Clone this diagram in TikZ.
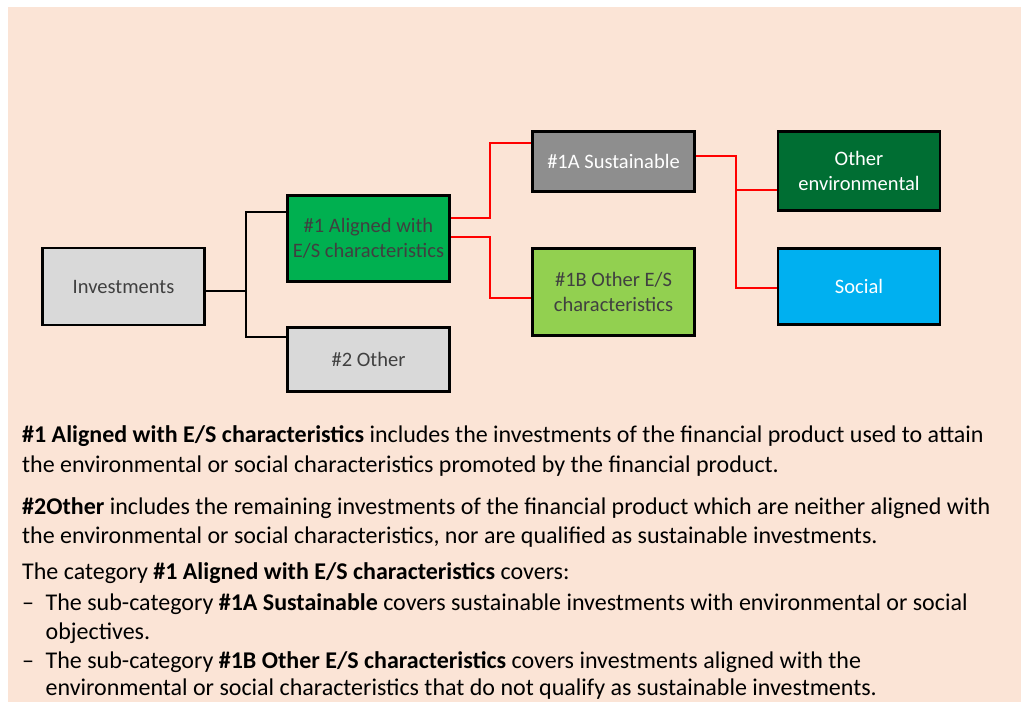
\documentclass[tikz,border=0pt]{standalone}
\usepackage{fontspec}
\setmainfont{Carlito}
\definecolor{peach}{HTML}{FBE4D6}
\definecolor{boxgray}{HTML}{D9D9D9}
\definecolor{boxgreen}{HTML}{00B050}
\definecolor{boxdgray}{HTML}{8E8E8E}
\definecolor{boxlgreen}{HTML}{92D050}
\definecolor{boxdgreen}{HTML}{006E33}
\definecolor{boxblue}{HTML}{00B0F0}
\definecolor{boxtext}{HTML}{404040}
\newcommand{\dashitem}{\makebox[23.5pt][l]{\textendash}}
\begin{document}
\begin{tikzpicture}[x=1pt,y=-1pt,
  cat/.style={draw=black,line width=2.4pt,inner sep=0pt,align=center,
    text=boxtext,font=\fontsize{20.5}{25}\selectfont,
    minimum width=162pt},
  blk/.style={draw=black,line width=1.6pt},
  rdl/.style={draw=red,line width=1.6pt},
  body/.style={anchor=base west,inner sep=0pt,text=black,
    font=\fontsize{24}{29}\selectfont}]
\useasboundingbox (0,0) rectangle (1021,702);
\fill[white] (0,0) rectangle (1021,702);
\fill[peach] (8,7) rectangle (1021,702);

\node[cat,fill=boxgray,minimum height=77pt] (inv) at (123.5,286.5) {Investments};
\node[cat,fill=boxgreen,minimum height=86pt] (one) at (368.5,238.5) {\#1 Aligned with\\E/S characteristics};
\node[cat,fill=boxgray,minimum height=64pt] (two) at (368.5,359.5) {\#2 Other};
\node[cat,fill=boxdgray,text=white,minimum height=60pt] (sa) at (613.5,161.5) {\#1A Sustainable};
\node[cat,fill=boxlgreen,minimum height=87pt] (ob) at (613.5,292) {\#1B Other E/S\\characteristics};
\node[cat,fill=boxdgreen,text=white,minimum height=79pt] (oe) at (859,171) {Other\\environmental};
\node[cat,fill=boxblue,text=white,minimum height=76pt] (soc) at (859,286.5) {Social};

\coordinate (j1) at (246,291);
\coordinate (j2) at (736,190);
\draw[blk] ([yshift=-4.5pt]inv.east) -- (j1);
\draw[blk] ([yshift=26.5pt]one.west) -| (j1) |- ([yshift=22.5pt]two.west);
\draw[rdl] ([yshift=20.5pt]one.east) -- ++(39,0) |- ([yshift=18.5pt]sa.west);
\draw[rdl] ([yshift=1.5pt]one.east) -- ++(39,0) |- ([yshift=-6pt]ob.west);
\draw[rdl] ([yshift=5.5pt]sa.east) -| (j2) -- ([yshift=-19pt]oe.west);
\draw[rdl] (j2) |- ([yshift=-1.5pt]soc.west);

\node[body] (t1) at (22,442) {\textbf{\#1 Aligned with E/S characteristics} includes the investments of the financial product used to attain};
\node[body] (t2) at (22,472) {the environmental or social characteristics promoted by the financial product.};
\node[body] (t3) at (22,514) {\textbf{\#2Other} includes the remaining investments of the financial product which are neither aligned with};
\node[body] (t4) at (22,543) {the environmental or social characteristics, nor are qualified as sustainable investments.};
\node[body] (t5) at (22,579.5) {The category \textbf{\#1 Aligned with E/S characteristics} covers:};
\node[body] (t6) at (22,610.5) {\dashitem The sub-category \textbf{\#1A Sustainable} covers sustainable investments with environmental or social};
\node[body] (t7) at (45.5,639) {objectives.};
\node[body] (t8) at (22,668) {\dashitem The sub-category \textbf{\#1B Other E/S characteristics} covers investments aligned with the};
\node[body] (t9) at (45.5,695.5) {environmental or social characteristics that do not qualify as sustainable investments.};
\end{tikzpicture}
\end{document}
